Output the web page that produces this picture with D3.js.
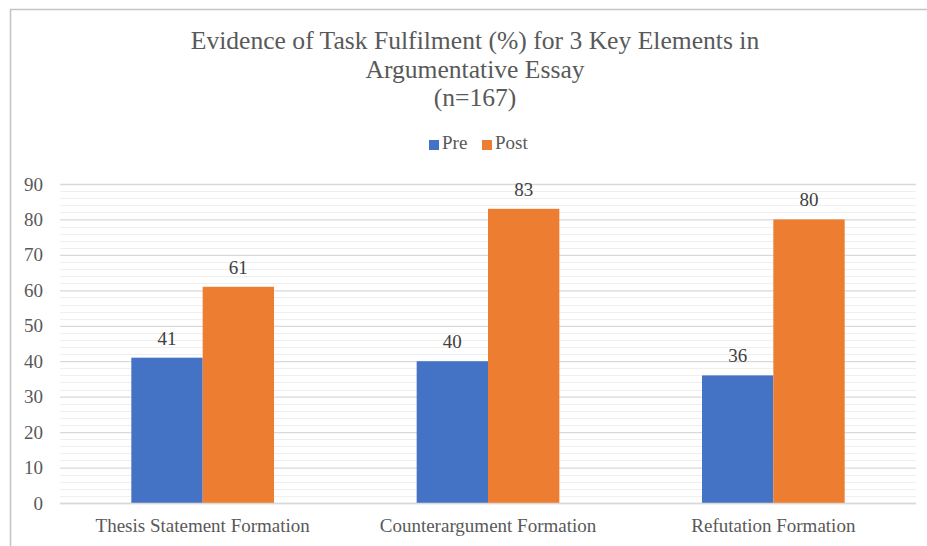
<!DOCTYPE html>
<html>
<head>
<title>Evidence of Task Fulfilment</title>
<style>
body {
  margin: 0;
  padding: 0;
  background: #fff;
}
</style>
<script src="https://d3js.org/d3.v7.min.js"></script>
</head>
<body>
<svg id="chart" width="927" height="546"></svg>
<script>
const categories = ["Thesis Statement Formation", "Counterargument Formation", "Refutation Formation"];
const seriesNames = ["Pre", "Post"];
const preValues = [41, 40, 36];
const postValues = [61, 83, 80];
const yTicks = [0, 10, 20, 30, 40, 50, 60, 70, 80, 90];
const titleLines = ["Evidence of Task Fulfilment (%) for 3 Key Elements in", "Argumentative Essay", "(n=167)"];

const FONT = "'Liberation Serif', 'Times New Roman', 'DejaVu Serif', serif";
const colors = {Pre: "#4472C4", Post: "#ED7D31"};
const W = 927, H = 546;
const margin = {left: 60, right: 11, top: 184, bottom: 43};

const svg = d3.select("#chart").attr("font-family", FONT);

// chart frame
svg.append("rect")
  .attr("x", 10.5).attr("y", 9.5)
  .attr("width", W).attr("height", H)
  .attr("fill", "#fff")
  .attr("stroke", "#c4c4c4")
  .attr("stroke-width", 1.5);

const x0 = d3.scaleBand()
  .domain(categories)
  .range([margin.left, W - margin.right])
  .paddingInner(0.5).paddingOuter(0.25);

const x1 = d3.scaleBand()
  .domain(seriesNames)
  .range([0, x0.bandwidth()]);

const y = d3.scaleLinear()
  .domain([0, 90])
  .range([H - margin.bottom, margin.top]);

// minor gridlines every 2
const minor = d3.range(0, 90, 2).filter(v => v % 10 !== 0);
svg.append("g")
  .selectAll("line")
  .data(minor)
  .join("line")
  .attr("x1", margin.left).attr("x2", W - margin.right)
  .attr("y1", d => Math.round(y(d)) + 0.5).attr("y2", d => Math.round(y(d)) + 0.5)
  .attr("stroke", "#efefef");

// major gridlines + tick labels
const yAxis = d3.axisLeft(y)
  .tickValues(yTicks)
  .tickSize(-(W - margin.right - margin.left))
  .tickPadding(17);

const gy = svg.append("g")
  .attr("transform", `translate(${margin.left},0)`)
  .call(yAxis)
  .attr("font-family", FONT)
  .attr("font-size", 19);
gy.select(".domain").remove();
gy.selectAll(".tick line").attr("stroke", "#d9d9d9").attr("stroke-width", 1.3);
gy.selectAll(".tick text").attr("fill", "#595959");

const data = categories.map((c, i) => ({cat: c, vals: [
  {key: "Pre", value: preValues[i]},
  {key: "Post", value: postValues[i]}
]}));

const groups = svg.append("g")
  .selectAll("g")
  .data(data)
  .join("g")
  .attr("transform", d => `translate(${x0(d.cat)},0)`);

groups.selectAll("rect")
  .data(d => d.vals)
  .join("rect")
  .attr("x", d => x1(d.key))
  .attr("width", x1.bandwidth())
  .attr("y", d => y(d.value))
  .attr("height", d => y(0) - y(d.value))
  .attr("fill", d => colors[d.key]);

groups.selectAll("text")
  .data(d => d.vals)
  .join("text")
  .attr("x", d => x1(d.key) + x1.bandwidth() / 2)
  .attr("y", d => y(d.value) - 13)
  .attr("text-anchor", "middle")
  .attr("fill", "#404040")
  .attr("font-size", 19)
  .text(d => d.value);

// x axis category labels
const xAxis = d3.axisBottom(x0).tickSize(0).tickPadding(16);
const gx = svg.append("g")
  .attr("transform", `translate(0,${y(0)})`)
  .call(xAxis)
  .attr("font-family", FONT)
  .attr("font-size", 19);
gx.select(".domain").attr("stroke", "#d9d9d9").attr("stroke-width", 1.3)
  .attr("d", `M${margin.left},0.5H${W - margin.right}`);
gx.selectAll(".tick text").attr("fill", "#595959");

// title
svg.append("g")
  .selectAll("text")
  .data(titleLines)
  .join("text")
  .attr("x", 475)
  .attr("y", (d, i) => 49 + i * 28.5)
  .attr("text-anchor", "middle")
  .attr("fill", "#595959")
  .attr("font-size", 25.6)
  .text(d => d);

// legend
const legend = svg.append("g").attr("transform", "translate(429,149)");
const legendX = [0, 53];
const li = legend.selectAll("g")
  .data(seriesNames)
  .join("g")
  .attr("transform", (d, i) => `translate(${legendX[i]},0)`);
li.append("rect")
  .attr("x", 0).attr("y", -9)
  .attr("width", 10).attr("height", 10)
  .attr("fill", d => colors[d]);
li.append("text")
  .attr("x", 13).attr("y", 0)
  .attr("fill", "#595959")
  .attr("font-size", 19)
  .text(d => d);
</script>
</body>
</html>
